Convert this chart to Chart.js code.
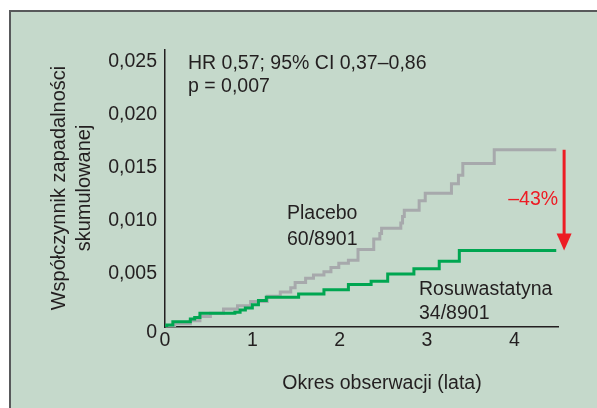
<!DOCTYPE html>
<html>
<head>
<meta charset="utf-8">
<script src="https://cdn.jsdelivr.net/npm/chart.js@4.4.0/dist/chart.umd.min.js"></script>
<style>
  html, body { margin: 0; padding: 0; background: #fff; }
  #wrap { width: 597px; height: 408px; position: relative; }
</style>
</head>
<body>
<div id="wrap"><canvas id="c"></canvas></div>
<script>
// cumulative incidence
const placeboTimes = [0, 0.11, 0.29, 0.40, 0.52, 0.67, 0.83, 0.98, 1.17, 1.32, 1.44, 1.49, 1.61, 1.70, 1.82, 1.90, 1.99, 2.10, 2.21, 2.39, 2.46, 2.48, 2.70, 2.72, 2.74, 2.91, 2.98, 3.28, 3.36, 3.41, 3.77, 4.48];
const placeboRisk = [0, 0.0003, 0.0006, 0.0010, 0.0013, 0.0017, 0.0020, 0.0024, 0.0029, 0.0033, 0.0037, 0.0042, 0.0046, 0.0049, 0.0052, 0.0056, 0.0060, 0.0063, 0.0073, 0.0083, 0.0088, 0.0093, 0.0098, 0.0104, 0.0110, 0.0119, 0.0126, 0.0135, 0.0143, 0.0154, 0.0167, 0.0167];

const rosuTimes = [0, 0.02, 0.09, 0.29, 0.34, 0.40, 0.80, 0.86, 0.92, 1.00, 1.07, 1.16, 1.53, 1.82, 2.10, 2.36, 2.55, 2.85, 3.14, 3.37, 4.48];
const rosuRisk = [0, 0.0002, 0.0005, 0.00075, 0.0009, 0.0013, 0.0014, 0.0016, 0.0018, 0.0021, 0.0025, 0.0028, 0.0031, 0.0035, 0.0040, 0.0043, 0.0050, 0.0055, 0.0062, 0.0072, 0.0072];

const xTicks = [0, 1, 2, 3, 4];
const yTicks = [0, 0.005, 0.010, 0.015, 0.020, 0.025];

const FONT = '"Liberation Sans", Arial, Helvetica, sans-serif';
const INK = '#231f20';
const RED = '#ed1c24';

const toPts = (xs, ys) => xs.map((x, i) => ({ x: x, y: ys[i] }));
const near = (v, list) => list.some(t => Math.abs(t - v) < 1e-7);

const panelBg = {
  id: 'panelBg',
  beforeDraw(chart) {
    const ctx = chart.ctx;
    ctx.save();
    ctx.fillStyle = '#fff';
    ctx.fillRect(0, 0, chart.width, chart.height);
    ctx.fillStyle = '#c5d9cb';
    ctx.fillRect(10, 11, chart.width - 10, chart.height - 11);
    ctx.strokeStyle = '#58595b';
    ctx.lineWidth = 2;
    ctx.beginPath();
    ctx.moveTo(10, chart.height);
    ctx.lineTo(10, 11);
    ctx.lineTo(chart.width, 11);
    ctx.stroke();
    ctx.restore();
  }
};

const notes = {
  id: 'notes',
  afterDraw(chart) {
    const ctx = chart.ctx;
    const xs = chart.scales.x, ys = chart.scales.y;
    ctx.save();
    ctx.fillStyle = INK;
    ctx.font = '19.5px ' + FONT;
    ctx.textBaseline = 'alphabetic';
    ctx.textAlign = 'left';
    ctx.fillText('HR 0,57; 95% CI 0,37\u20130,86', 188, 69);
    ctx.fillText('p = 0,007', 188, 92);
    ctx.fillText('Placebo', 287, 219);
    ctx.fillText('60/8901', 287, 245);
    ctx.fillText('Rosuwastatyna', 419, 295);
    ctx.fillText('34/8901', 419, 319);

    // zero of the y axis sits a little below the x axis
    ctx.textAlign = 'right';
    ctx.fillText('0', 157, 338);

    ctx.textAlign = 'center';
    ctx.fillText('Okres obserwacji (lata)', 382, 389);

    // y title, two lines, rotated
    ctx.save();
    ctx.translate(65, 188);
    ctx.rotate(-Math.PI / 2);
    ctx.font = '20px ' + FONT;
    ctx.fillText('Wsp\u00f3\u0142czynnik zapadalno\u015bci', 0, 0);
    ctx.fillText('skumulowanej', 0, 25);
    ctx.restore();

    // reduction arrow between the two end values
    const ax = xs.getPixelForValue(4.57);
    const top = ys.getPixelForValue(placeboRisk[placeboRisk.length - 1]);
    const tip = ys.getPixelForValue(rosuRisk[rosuRisk.length - 1]);
    ctx.strokeStyle = RED;
    ctx.fillStyle = RED;
    ctx.lineWidth = 3;
    ctx.beginPath();
    ctx.moveTo(ax, top);
    ctx.lineTo(ax, tip - 14);
    ctx.stroke();
    ctx.beginPath();
    ctx.moveTo(ax - 7.5, tip - 17);
    ctx.lineTo(ax + 7.5, tip - 17);
    ctx.lineTo(ax, tip);
    ctx.closePath();
    ctx.fill();
    ctx.textAlign = 'right';
    ctx.font = '19.5px ' + FONT;
    ctx.fillText('\u201343%', ax - 6, 205);
    ctx.restore();
  }
};

new Chart(document.getElementById('c'), {
  type: 'line',
  data: {
    datasets: [
      {
        label: 'Placebo',
        data: toPts(placeboTimes, placeboRisk),
        borderColor: '#a7a9ac',
        borderWidth: 3,
        stepped: true,
        pointRadius: 0,
        fill: false,
        order: 2
      },
      {
        label: 'Rosuwastatyna',
        data: toPts(rosuTimes, rosuRisk),
        borderColor: '#00a651',
        borderWidth: 3,
        stepped: true,
        pointRadius: 0,
        fill: false,
        order: 1
      }
    ]
  },
  options: {
    responsive: true,
    maintainAspectRatio: false,
    animation: false,
    layout: { padding: { top: 50, right: 39, left: 0, bottom: 0 } },
    plugins: { legend: { display: false }, tooltip: { enabled: false } },
    scales: {
      x: {
        type: 'linear',
        min: 0,
        max: 4.5,
        border: { display: true, color: INK, width: 1.5 },
        grid: { display: false, drawTicks: false },
        ticks: {
          stepSize: 1,
          includeBounds: false,
          padding: 2,
          color: INK,
          font: { family: FONT, size: 19.5 },
          maxRotation: 0,
          callback: v => near(v, xTicks) ? String(Math.round(v)) : ''
        },
        afterFit(s) { s.height = 81; }
      },
      y: {
        min: 0,
        max: 0.0261,
        border: { display: true, color: INK, width: 1.5 },
        grid: { display: false, drawTicks: false },
        ticks: {
          stepSize: 0.005,
          includeBounds: false,
          padding: 8,
          color: INK,
          font: { family: FONT, size: 19.5 },
          callback: v => (v > 0 && near(v, yTicks)) ? v.toFixed(3).replace('.', ',') : ''
        },
        afterFit(s) { s.width = 165; }
      }
    }
  },
  plugins: [panelBg, notes]
});
</script>
</body>
</html>
